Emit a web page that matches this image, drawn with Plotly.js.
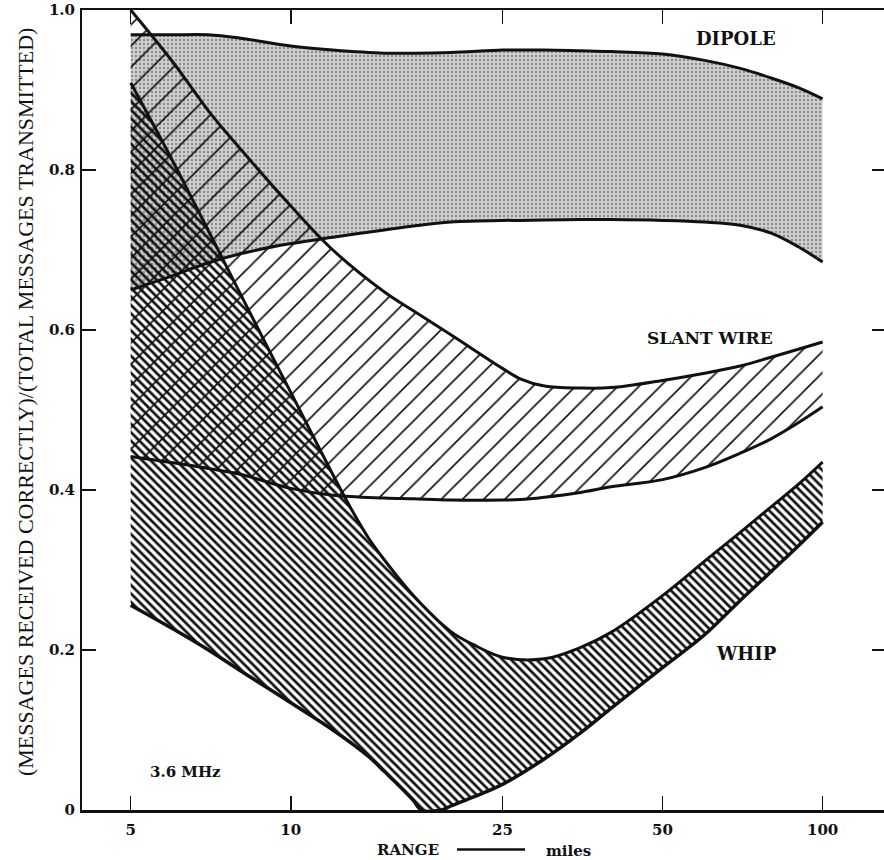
<!DOCTYPE html>
<html>
<head>
<meta charset="utf-8">
<script src="https://cdn.plot.ly/plotly-3.0.1.min.js"></script>
<style>
  html, body { margin: 0; padding: 0; background: #fff; overflow: hidden; }
  #chart { width: 890px; height: 860px; }
</style>
</head>
<body>
<div id="chart"></div>
<script>
// ---- data (range in miles, ratio of messages received correctly) ----
var rangeMiles = [5, 6, 7, 8, 10, 12, 15, 17, 20, 25, 27, 30, 35, 40, 50, 60, 70, 80, 90, 100];
var dipoleHigh = [0.969, 0.969, 0.969, 0.965, 0.955, 0.950, 0.946, 0.946, 0.947, 0.950, 0.950, 0.950, 0.949, 0.948, 0.945, 0.937, 0.927, 0.915, 0.903, 0.889];
var dipoleLow  = [0.650, 0.668, 0.684, 0.695, 0.708, 0.716, 0.725, 0.730, 0.735, 0.737, 0.737, 0.7375, 0.738, 0.738, 0.737, 0.735, 0.731, 0.721, 0.704, 0.685];
var slantHigh  = [1.000, 0.935, 0.874, 0.828, 0.755, 0.700, 0.6475, 0.624, 0.594, 0.552, 0.539, 0.530, 0.5275, 0.528, 0.537, 0.546, 0.555, 0.566, 0.576, 0.585];
var slantLow   = [0.442, 0.434, 0.427, 0.420, 0.402, 0.3935, 0.390, 0.389, 0.3875, 0.3875, 0.388, 0.391, 0.397, 0.404, 0.413, 0.428, 0.446, 0.464, 0.484, 0.504];

var whipHighMiles = [5, 6, 7, 8, 9, 10, 12, 13, 14, 15, 17, 20, 22, 25, 30, 35, 40, 50, 60, 70, 80, 90, 100];
var whipHigh      = [0.909, 0.811, 0.724, 0.648, 0.581, 0.522, 0.419, 0.376, 0.340, 0.3125, 0.268, 0.223, 0.207, 0.191, 0.189, 0.203, 0.222, 0.268, 0.311, 0.347, 0.379, 0.407, 0.435];
var whipLowMiles  = [5, 6, 7, 8, 10, 12, 14, 15, 16, 17, 17.6, 19.2, 20, 22, 25, 30, 35, 40, 50, 60, 70, 80, 90, 100];
var whipLow       = [0.256, 0.2265, 0.200, 0.175, 0.134, 0.100, 0.067, 0.048, 0.030, 0.012, 0.0, 0.0, 0.005, 0.016, 0.032, 0.064, 0.096, 0.127, 0.178, 0.219, 0.262, 0.298, 0.330, 0.360];

var xTicks = [5, 10, 25, 50, 100];
var xTickText = ['5', '10', '25', '50', '100'];
var yTicks = [0, 0.2, 0.4, 0.6, 0.8, 1.0];
var yTickText = ['0', '0.2', '0.4', '0.6', '0.8', '1.0'];

var serif = 'DejaVu Serif, Liberation Serif, serif';
var SM = 1.0;

function bandLow(x, y) {
  return {x: x, y: y, type: 'scatter', mode: 'lines', line: {width: 0, shape: 'spline', smoothing: SM},
          hoverinfo: 'skip', showlegend: false};
}
function bandHigh(x, y, pattern) {
  return {x: x, y: y, type: 'scatter', mode: 'lines', fill: 'tonexty', fillcolor: 'rgba(0,0,0,0)',
          fillpattern: pattern, line: {width: 0, shape: 'spline', smoothing: SM},
          hoverinfo: 'skip', showlegend: false};
}
function edge(x, y, w) {
  return {x: x, y: y, type: 'scatter', mode: 'lines', line: {color: '#111', width: w, shape: 'spline', smoothing: SM},
          hoverinfo: 'skip', showlegend: false};
}

var traces = [
  bandLow(rangeMiles, dipoleLow),
  bandHigh(rangeMiles, dipoleHigh, {shape: '.', size: 4, solidity: 0.28, fgcolor: '#8a8a8a', bgcolor: 'rgba(200,200,200,0.85)'}),
  bandLow(rangeMiles, slantLow),
  bandHigh(rangeMiles, slantHigh, {shape: '/', size: 15, solidity: 0.11, fgcolor: '#111', bgcolor: 'rgba(0,0,0,0)'}),
  bandLow(whipLowMiles, whipLow),
  bandHigh(whipHighMiles, whipHigh, {shape: '\\', size: 6, solidity: 0.45, fgcolor: '#111', bgcolor: 'rgba(0,0,0,0)'}),
  edge(rangeMiles, dipoleHigh, 3),
  edge(rangeMiles, dipoleLow, 3),
  edge(rangeMiles, slantHigh, 3),
  edge(rangeMiles, slantLow, 3),
  edge(whipHighMiles, whipHigh, 3),
  edge(whipLowMiles, whipLow, 3.5)
];

function label(text, x, y, size, fam) {
  return {text: text, xref: 'paper', yref: 'paper', x: x, y: y, xanchor: 'center', yanchor: 'middle',
          showarrow: false, font: {family: fam || serif, size: size, color: '#111', weight: 'bold'}};
}

var layout = {
  width: 890, height: 860,
  margin: {l: 82, r: 4, t: 10, b: 50},
  paper_bgcolor: '#fff', plot_bgcolor: '#fff',
  showlegend: false, hovermode: false,
  xaxis: {
    type: 'log', range: [0.6074, 2.1192],
    tickvals: xTicks, ticktext: xTickText,
    ticks: 'inside', ticklen: 14, tickwidth: 1.5, tickcolor: '#111',
    showline: true, linewidth: 2.5, linecolor: '#111', mirror: 'ticks',
    showgrid: false, zeroline: false, ticklabelstandoff: 4,
    tickfont: {family: serif, size: 15, color: '#111', weight: 'bold'}
  },
  yaxis: {
    range: [0, 1.0],
    tickvals: yTicks, ticktext: yTickText,
    ticks: 'inside', ticklen: 14, tickwidth: 1.5, tickcolor: '#111',
    showline: true, linewidth: 2, linecolor: '#111', mirror: 'ticks',
    showgrid: false, zeroline: false, ticklabelstandoff: 2,
    tickfont: {family: serif, size: 15, color: '#111', weight: 'bold'}
  },
  shapes: [
    {type: 'line', xref: 'paper', yref: 'paper', x0: 0.4664, x1: 0.551, y0: -0.0495, y1: -0.0495,
     line: {color: '#111', width: 2.5}}
  ],
  annotations: [
    label('DIPOLE', 0.8134, 0.9644, 18),
    label('SLANT WIRE', 0.781, 0.5906, 17),
    label('WHIP', 0.827, 0.196, 18),
    label('3.6 MHz', 0.1287, 0.0469, 15),
    label('RANGE', 0.4055, -0.0495, 15),
    label('miles', 0.605, -0.0515, 15),
    {text: '(MESSAGES RECEIVED CORRECTLY)/(TOTAL MESSAGES TRANSMITTED)', xref: 'paper', yref: 'paper',
     x: -0.071, y: 0.511, xanchor: 'center', yanchor: 'middle', textangle: -90, showarrow: false,
     font: {family: 'Liberation Serif, Times New Roman, serif', size: 22, color: '#111'}}
  ]
};

Plotly.newPlot('chart', traces, layout, {staticPlot: true, displayModeBar: false});
</script>
</body>
</html>
